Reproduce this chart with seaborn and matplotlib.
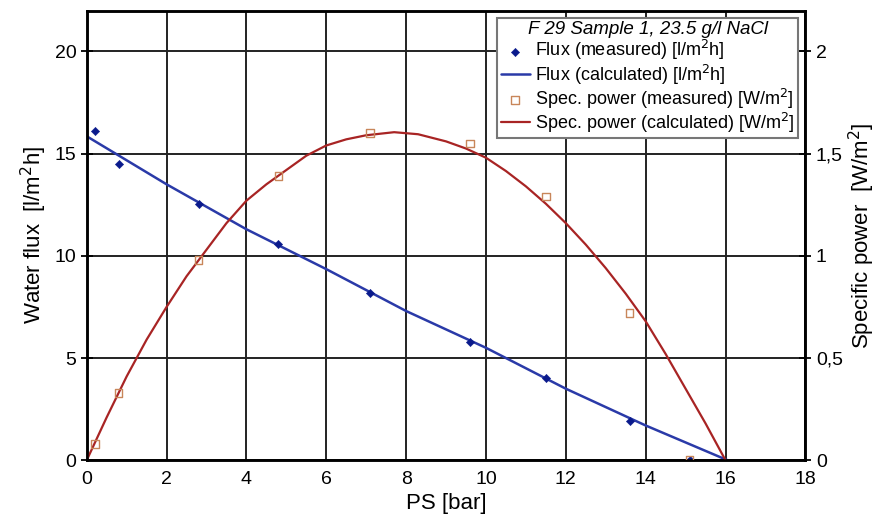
import pandas as pd
import matplotlib.pyplot as plt
import seaborn as sns

# measured points
ps_meas = [0.2, 0.8, 2.8, 4.8, 7.1, 9.6, 11.5, 13.6, 15.1]
flux_meas = [16.1, 14.5, 12.55, 10.6, 8.17, 5.8, 4.0, 1.9, 0.0]
power_meas = [0.08, 0.33, 0.98, 1.39, 1.60, 1.55, 1.29, 0.72, 0.0]

# calculated curves
ps_flux_calc = [0, 2, 4, 6, 8, 10, 12, 14, 16.05]
flux_calc = [15.85, 13.5, 11.3, 9.35, 7.3, 5.5, 3.5, 1.7, 0.0]
ps_power_calc = [0, 0.5, 1, 1.5, 2, 2.5, 3, 3.5, 4, 4.5, 5, 5.5, 6, 6.5, 7, 7.7, 8.3, 9, 9.5,
                 10, 10.5, 11, 11.5, 12, 12.5, 13, 13.5, 14, 14.5, 15, 15.5, 16]
power_calc = [0, 0.21, 0.41, 0.59, 0.75, 0.9, 1.03, 1.16, 1.27, 1.35, 1.42, 1.49, 1.54, 1.57,
              1.59, 1.605, 1.595, 1.56, 1.525, 1.48, 1.415, 1.34, 1.255, 1.16, 1.055, 0.94,
              0.815, 0.68, 0.52, 0.35, 0.18, 0.0]

meas = pd.DataFrame({'ps': ps_meas, 'flux': flux_meas, 'power': power_meas})
fcalc = pd.DataFrame({'ps': ps_flux_calc, 'flux': flux_calc})
pcalc = pd.DataFrame({'ps': ps_power_calc, 'power': power_calc})

sns.set_style('white')
plt.rcParams['font.family'] = ['Liberation Sans', 'DejaVu Sans']
plt.rcParams['text.color'] = 'black'
plt.rcParams['axes.labelcolor'] = 'black'

fig, ax = plt.subplots(figsize=(8.85, 5.29), dpi=100)
fig.subplots_adjust(left=0.098, right=0.91, top=0.98, bottom=0.13)
ax2 = ax.twinx()

sns.scatterplot(data=meas, x='ps', y='flux', ax=ax, marker='D', s=18, color='#0a1a8c',
                edgecolor='#0a1a8c', label='Flux (measured) [l/m$^2$h]', zorder=5)
sns.lineplot(data=fcalc, x='ps', y='flux', ax=ax, color='#2a3aa8', lw=1.8,
             label='Flux (calculated) [l/m$^2$h]')

sns.scatterplot(data=meas, x='ps', y='power', ax=ax2, marker='s', s=30, facecolor='none',
                edgecolor='#c8865a', linewidth=1.0, label='Spec. power (measured) [W/m$^2$]', zorder=5)
sns.lineplot(data=pcalc, x='ps', y='power', ax=ax2, color='#a82424', lw=1.6,
             label='Spec. power (calculated) [W/m$^2$]')

ax.set_xlim(0, 18)
ax.set_ylim(0, 22)
ax2.set_ylim(0, 2.2)
ax.set_xticks(range(0, 19, 2))
ax.set_yticks([0, 5, 10, 15, 20])
ax2.set_yticks([0, 0.5, 1, 1.5, 2])
ax2.set_yticklabels(['0', '0,5', '1', '1,5', '2'])

ax.grid(True, color='#222222', lw=1.4)
ax.set_axisbelow(True)
for a in (ax, ax2):
    for s in a.spines.values():
        s.set_linewidth(1.8)
        s.set_color('black')
    a.tick_params(direction='inout', length=8, width=1.3, labelsize=14, colors='black')

ax.set_xlabel('PS [bar]', fontsize=16, color='black')
ax.set_ylabel('Water flux  [l/m$^2$h]', fontsize=16, color='black')
ax2.set_ylabel('Specific power  [W/m$^2$]', fontsize=16, labelpad=3, color='black')

h1, lab1 = ax.get_legend_handles_labels()
h2, lab2 = ax2.get_legend_handles_labels()
if ax.get_legend():
    ax.get_legend().remove()
leg = ax2.legend(h1 + h2, lab1 + lab2, loc='upper right', bbox_to_anchor=(0.995, 0.992),
                 title='F 29 Sample 1, 23.5 g/l NaCl', fontsize=13, title_fontsize=13.5,
                 frameon=True, fancybox=False, edgecolor='#777777', framealpha=1,
                 handlelength=1.6, handletextpad=0.3, borderpad=0.2, labelspacing=0.0,
                 borderaxespad=0.2)
leg.get_title().set_fontstyle('italic')
leg.get_frame().set_linewidth(1.5)

plt.savefig('out.png', dpi=100)
